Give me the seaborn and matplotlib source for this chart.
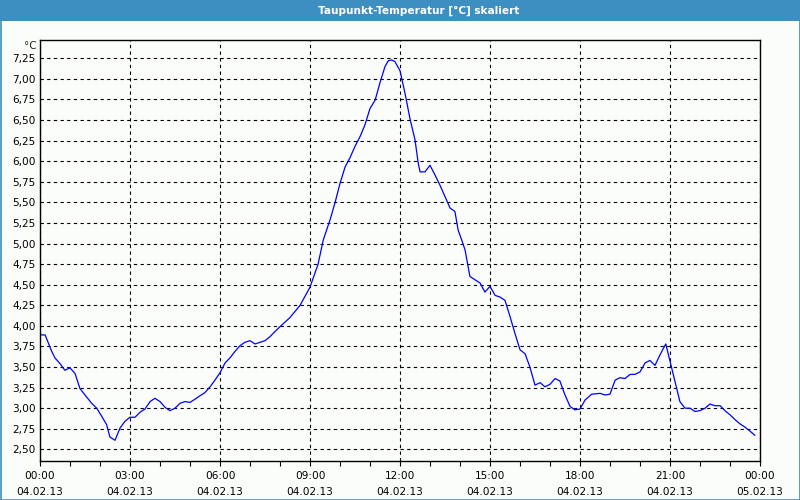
import matplotlib
matplotlib.use("Agg")
import matplotlib.pyplot as plt
import seaborn as sns
from matplotlib.patches import Rectangle
from matplotlib.ticker import FixedLocator, MultipleLocator, FuncFormatter

# ---- data (hours since 04.02.13 00:00, dew point °C) ----
hours = [
    0.00, 0.17, 0.39, 0.50, 0.67, 0.83, 1.00, 1.17, 1.33, 1.50, 1.72, 1.89, 2.06, 2.22,
    2.33, 2.50, 2.67, 2.83, 3.00, 3.17, 3.33, 3.50, 3.67, 3.83, 4.00, 4.17, 4.33, 4.50,
    4.67, 4.83, 5.00, 5.17, 5.33, 5.50, 5.67, 5.83, 6.00, 6.17, 6.33, 6.50, 6.67, 6.83,
    7.00, 7.17, 7.33, 7.50, 7.67, 7.83, 8.00, 8.33, 8.67, 9.00, 9.27, 9.44, 9.67, 9.83,
    10.00, 10.17, 10.33, 10.50, 10.67, 10.83, 11.00, 11.17, 11.33, 11.50, 11.61, 11.72,
    11.83, 12.00, 12.17, 12.33, 12.50, 12.61, 12.67, 12.83, 13.00, 13.17, 13.33, 13.50,
    13.67, 13.83, 13.94, 14.06, 14.17, 14.33, 14.50, 14.67, 14.83, 15.00, 15.17, 15.33,
    15.50, 15.67, 15.83, 16.00, 16.17, 16.33, 16.50, 16.67, 16.83, 17.00, 17.17, 17.33,
    17.50, 17.67, 17.83, 18.00, 18.17, 18.39, 18.67, 18.83, 19.00, 19.17, 19.33, 19.50,
    19.67, 19.83, 20.00, 20.17, 20.33, 20.50, 20.67, 20.86, 21.00, 21.17, 21.33, 21.50,
    21.67, 21.83, 22.00, 22.17, 22.33, 22.50, 22.67, 22.83, 23.00, 23.17, 23.33, 23.50,
    23.67, 23.83,
]
dewpoint = [
    3.89, 3.89, 3.69, 3.61, 3.54, 3.46, 3.49, 3.42, 3.24, 3.16, 3.06, 3.00, 2.90, 2.80,
    2.65, 2.61, 2.76, 2.84, 2.89, 2.89, 2.95, 2.99, 3.08, 3.12, 3.08, 3.01, 2.97, 3.00,
    3.06, 3.08, 3.07, 3.11, 3.15, 3.19, 3.26, 3.34, 3.43, 3.55, 3.61, 3.69, 3.76, 3.80,
    3.82, 3.78, 3.80, 3.82, 3.87, 3.93, 3.99, 4.10, 4.25, 4.47, 4.75, 5.04, 5.29, 5.49,
    5.73, 5.93, 6.04, 6.18, 6.30, 6.44, 6.64, 6.74, 6.95, 7.15, 7.22, 7.23,
    7.21, 7.10, 6.82, 6.52, 6.26, 5.97, 5.87, 5.87, 5.95, 5.83, 5.71, 5.57,
    5.43, 5.39, 5.16, 5.04, 4.92, 4.60, 4.56, 4.52, 4.41, 4.48, 4.37, 4.35,
    4.31, 4.11, 3.91, 3.71, 3.66, 3.50, 3.28, 3.31, 3.26, 3.29, 3.36, 3.33,
    3.16, 3.02, 2.98, 2.99, 3.10, 3.17, 3.18, 3.16, 3.17, 3.34, 3.37, 3.36,
    3.41, 3.41, 3.44, 3.55, 3.58, 3.52, 3.65, 3.78, 3.57, 3.32, 3.08, 3.00,
    3.00, 2.96, 2.97, 3.00, 3.05, 3.03, 3.03, 2.97, 2.92, 2.86, 2.81, 2.77,
    2.72, 2.67,
]

x_tick_hours = [0, 3, 6, 9, 12, 15, 18, 21, 24]
x_tick_labels = ["00:00\n04.02.13", "03:00\n04.02.13", "06:00\n04.02.13",
                 "09:00\n04.02.13", "12:00\n04.02.13", "15:00\n04.02.13",
                 "18:00\n04.02.13", "21:00\n04.02.13", "00:00\n05.02.13"]
y_ticks = [2.50, 2.75, 3.00, 3.25, 3.50, 3.75, 4.00, 4.25, 4.50, 4.75, 5.00,
           5.25, 5.50, 5.75, 6.00, 6.25, 6.50, 6.75, 7.00, 7.25]
title = "Taupunkt-Temperatur [°C] skaliert"
unit = "°C"

# ---- figure ----
sns.set_style("white")
plt.rcParams['font.family'] = ['DejaVu Sans']
W, H = 800, 500
fig = plt.figure(figsize=(8, 5), dpi=100, facecolor="#fbfdfb")

def px(x, y):
    return x / W, 1 - y / H

ax = fig.add_axes([40 / W, 1 - 460.7 / H, 720 / W, 420.7 / H])
ax.set_facecolor("#fbfdfb")

sns.lineplot(x=hours, y=dewpoint, ax=ax, color="#0000ff", linewidth=0.9)

ax.set_xlim(0, 24)
ax.set_ylim(2.362, 7.472)
ax.xaxis.set_major_locator(FixedLocator(x_tick_hours))
ax.set_xticklabels(x_tick_labels, fontsize=7.6, linespacing=1.75)
ax.xaxis.set_minor_locator(MultipleLocator(1))
ax.yaxis.set_major_locator(FixedLocator(y_ticks))
ax.yaxis.set_major_formatter(FuncFormatter(lambda v, p: f"{v:.2f}".replace(".", ",")))
ax.tick_params(axis="y", length=0, pad=3, labelsize=7.6, labelcolor="#000000")
ax.tick_params(axis="x", which="both", length=3.5, width=0.8, direction="out",
               pad=4, labelsize=7.6, colors="#000000", bottom=True)
ax.grid(True, which="major", color="black", linestyle=(0, (3, 3)), linewidth=0.8)
ax.set_axisbelow(True)
for s in ax.spines.values():
    s.set_color("black")
    s.set_linewidth(1.0)
ax.set_xlabel("")
ax.set_ylabel("")

# unit label
fig.text(*px(37, 46), unit, ha="right", va="center", fontsize=7.6)

# title bar
fig.patches.append(Rectangle(px(0, 21), 1, 21 / H, transform=fig.transFigure,
                             facecolor="#3d8fc1", edgecolor="none", zorder=0))
fig.text(*px(419, 10.5), title, ha="center", va="center", color="white",
         fontsize=7.6, fontweight="bold", family=["DejaVu Sans"])
# thin blue frame
fig.patches.append(Rectangle((0.5 / W, 0.5 / H), 1 - 1 / W, 1 - 1 / H,
                             transform=fig.transFigure, facecolor="none",
                             edgecolor="#3d8fc1", linewidth=1.2, zorder=5))

fig.savefig("out.png", dpi=100, facecolor=fig.get_facecolor())
